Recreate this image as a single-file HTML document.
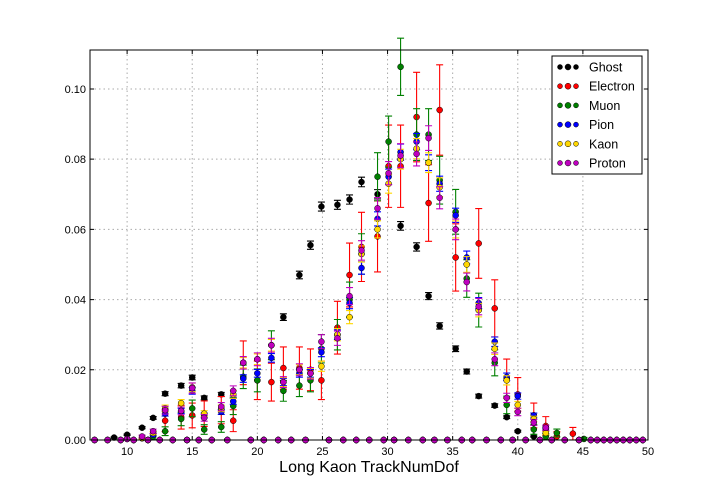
<!DOCTYPE html>
<html><head><meta charset="utf-8"><style>
html,body{margin:0;padding:0;background:#fff;width:720px;height:504px;overflow:hidden}
svg{display:block;font-family:"Liberation Sans","DejaVu Sans",sans-serif}
</style></head><body>
<svg id="chart" width="720" height="504"></svg>
<script>
const xTicks=[10,15,20,25,30,35,40,45,50];
const yTicks=[0,0.02,0.04,0.06,0.08,0.10];
const yTickLabels=["0.00","0.02","0.04","0.06","0.08","0.10"];
const bins=[8,9,10,11.15,12,12.92,14.15,15,15.92,17.23,18.15,18.92,20,21.08,22,23.23,24.08,24.92,26.15,27.08,28,29.23,30.08,31,32.23,33.15,34,35.23,36.08,37,38.23,39.15,40,41.23,42.15,43,44.23,45.08];
const ghost   =[0,0.0007,0.0015,0.0035,0.0063,0.0132,0.0155,0.0178,0.012,0.013,0,0,0,0,0.035,0.047,0.0555,0.0665,0.067,0.0685,0.0735,0.070,0,0.061,0.055,0.041,0.0325,0.026,0.0195,0.0125,0.0098,0.0065,0.0025,0.001,0,0,0,0];
const electron=[0,0,0,0,0,0.0055,0.0065,0.007,0.0075,0.0085,0.0055,0.022,0.017,0.0165,0.0205,0.0205,0.020,0.017,0.032,0.047,0.055,0.058,0.078,0.078,0.092,0.0675,0.094,0.052,0,0.056,0.0375,0.0175,0.013,0.007,0.004,0.001,0.0018,0];
const muon    =[0,0,0,0,0.001,0.0025,0.006,0.009,0.003,0.0037,0.0097,0.018,0.017,0.027,0.014,0.0155,0.017,0.026,0.030,0.040,0.053,0.075,0.085,0.1063,0.087,0.087,0.074,0.065,0.046,0.037,0.022,0.010,0,0.003,0.001,0.002,0,0.0003];
const pion    =[0,0,0.0003,0.0005,0.0015,0.0075,0.0083,0.014,0.007,0.008,0.011,0.0175,0.019,0.0234,0.0165,0.019,0.019,0.025,0.030,0.039,0.049,0.063,0.075,0.082,0.085,0.079,0.073,0.064,0.052,0.039,0.028,0.018,0.0125,0.007,0.003,0,0,0];
const kaon    =[0,0,0.0003,0.0005,0.002,0.009,0.0105,0.015,0.0075,0.009,0.013,0.022,0.023,0.027,0.0165,0.020,0.019,0.021,0.030,0.035,0.053,0.060,0.073,0.080,0.083,0.079,0.072,0.060,0.050,0.037,0.026,0.017,0.010,0.006,0.002,0,0,0];
const proton  =[0,0,0.0003,0.001,0.0025,0.0085,0.0083,0.0148,0.0063,0.0095,0.014,0.022,0.023,0.027,0.0165,0.020,0.019,0.028,0.029,0.041,0.054,0.066,0.076,0.081,0.0815,0.086,0.069,0.060,0.045,0.038,0.023,0.012,0.008,0.005,0.0035,0,0,0];
const zeroBins=[7.5,8.5,9.5,10.5,11.6,12.5,13.5,14.6,15.5,16.5,17.7,19.5,20.5,21.6,22.6,23.7,25.5,26.6,27.6,28.6,29.7,30.5,31.6,32.7,33.6,34.6,35.7,36.5,37.6,38.7,39.6,40.6,41.7,42.6,43.6,44.7,45.6,46.1,46.6,47.1,47.6,48.1,48.6,49.1,49.6];
const seriesNames=["Ghost","Electron","Muon","Pion","Kaon","Proton"];
const seriesColors=["#000000","#ff0000","#008000","#0000ff","#ffd700","#bf00bf"];
const errScale=[0.005,0.042,0.025,0.008,0.01,0.012];
const seriesData=[ghost,electron,muon,pion,kaon,proton];

const L=90,R=648,T=50,B=440,XMIN=7.15,XMAX=50,YMIN=0,YMAX=0.1111;
const sx=v=>L+(v-XMIN)/(XMAX-XMIN)*(R-L);
const sy=v=>B-(v-YMIN)/(YMAX-YMIN)*(B-T);
const NS="http://www.w3.org/2000/svg";
const svg=document.getElementById('chart');
function mk(tag,attrs,parent){const e=document.createElementNS(NS,tag);for(const k in attrs)e.setAttribute(k,attrs[k]);(parent||svg).appendChild(e);return e;}

const grid=mk('g',{});


xTicks.forEach(t=>{
  const l=mk('line',{x1:sx(t),x2:sx(t),y1:T,y2:B,stroke:'#aaa','stroke-dasharray':'1.5,3'},grid);
  
});
yTicks.forEach(t=>{
  const l=mk('line',{x1:L,x2:R,y1:sy(t),y2:sy(t),stroke:'#aaa','stroke-dasharray':'1.5,3'},grid);
  
});

seriesData.forEach((arr,si)=>{
  const g=mk('g',{});
  
  
  const c=seriesColors[si];
  zeroBins.forEach(x=>{
    const p=mk('circle',{cx:sx(x),cy:sy(0),r:3,fill:c,stroke:'#000','stroke-width':0.5},g);
    
  });
  arr.forEach((v,i)=>{
    if(v<=0) return;
    const x=sx(bins[i]);
    const e=errScale[si]*Math.sqrt(v);
    const eb=mk('path',{d:`M${x},${sy(v+e)}V${sy(Math.max(0,v-e))}M${x-3.5},${sy(v+e)}h7M${x-3.5},${sy(Math.max(0,v-e))}h7`,stroke:c,'stroke-width':1.1,fill:'none'},g);
    
    const p=mk('circle',{cx:x,cy:sy(v),r:3,fill:c,stroke:'#000','stroke-width':0.5},g);
    
  });
});

const fr=mk('rect',{x:L,y:T,width:R-L,height:B-T,fill:'none',stroke:'#000','stroke-width':1});


xTicks.forEach(t=>{
  mk('path',{d:`M${sx(t)},${B}v-4M${sx(t)},${T}v4`,stroke:'#000'});
  const tx=mk('text',{x:sx(t),y:B+15,'font-size':11,'text-anchor':'middle'});
  tx.textContent=t;
  
});
yTicks.forEach((t,i)=>{
  mk('path',{d:`M${L},${sy(t)}h4M${R},${sy(t)}h-4`,stroke:'#000'});
  const tx=mk('text',{x:L-4,y:sy(t)+4,'font-size':11,'text-anchor':'end'});
  tx.textContent=yTickLabels[i];
  
});
const xl=mk('text',{x:(L+R)/2,y:472,'font-size':16,'text-anchor':'middle'});
xl.textContent='Long Kaon TrackNumDof';


const lg=mk('g',{});

mk('rect',{x:552,y:56,width:90,height:118,fill:'#fff',stroke:'#000'},lg);
seriesNames.forEach((n,i)=>{
  const y=67+i*19.2;
  const ent=mk('g',{},lg);
  
  [560,568,576].forEach((x,j)=>mk('circle',{cx:x,cy:y,r:j==1?3:2.5,fill:seriesColors[i],stroke:'#000','stroke-width':0.5},ent));
  const t=mk('text',{x:589,y:y+4.5,'font-size':12.5},ent);
  t.textContent=n;
});
</script>
</body></html>
